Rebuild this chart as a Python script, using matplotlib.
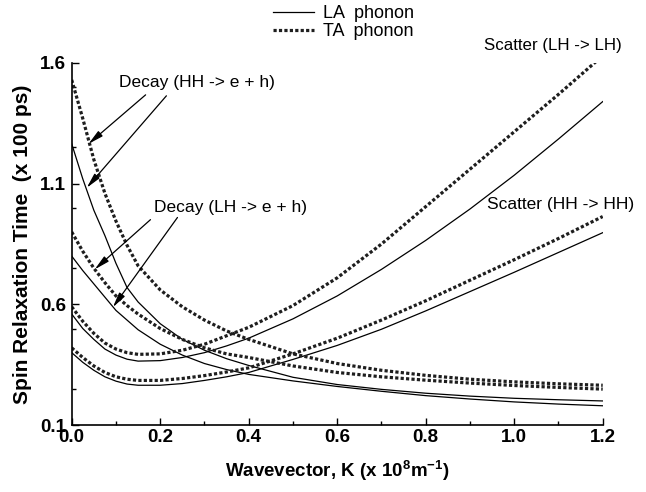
import matplotlib
matplotlib.use('Agg')
import matplotlib.pyplot as plt
from matplotlib.lines import Line2D
from matplotlib.ticker import MultipleLocator

plt.rcParams['font.family'] = ['Liberation Sans', 'DejaVu Sans']
plt.rcParams['mathtext.default'] = 'regular'

# wavevector grid (x 10^8 m^-1)
k = [0, 0.025, 0.05, 0.075, 0.1, 0.125, 0.15, 0.2, 0.25, 0.3, 0.35, 0.4,
     0.5, 0.6, 0.7, 0.8, 0.9, 1.0, 1.1, 1.2]

# spin relaxation time (x 100 ps)
decay_hh_ta = [1.53, 1.37, 1.20, 1.06, 0.945, 0.845, 0.76, 0.66, 0.59, 0.535,
               0.49, 0.455, 0.395, 0.355, 0.327, 0.306, 0.29, 0.279, 0.271, 0.265]
decay_hh_la = [1.265, 1.12, 0.99, 0.885, 0.77, 0.67, 0.61, 0.52, 0.455, 0.41,
               0.375, 0.347, 0.298, 0.268, 0.248, 0.232, 0.22, 0.211, 0.205, 0.20]
decay_lh_ta = [0.90, 0.82, 0.75, 0.69, 0.635, 0.595, 0.56, 0.50, 0.455, 0.42,
               0.395, 0.38, 0.345, 0.318, 0.30, 0.286, 0.274, 0.264, 0.256, 0.249]
decay_lh_la = [0.80, 0.74, 0.685, 0.63, 0.575, 0.535, 0.495, 0.435, 0.39, 0.355,
               0.33, 0.31, 0.283, 0.26, 0.24, 0.222, 0.208, 0.196, 0.187, 0.18]
scat_lh_ta = [0.59, 0.53, 0.48, 0.44, 0.415, 0.40, 0.393, 0.395, 0.41, 0.435,
              0.47, 0.505, 0.595, 0.71, 0.85, 1.005, 1.16, 1.315, 1.47, 1.63]
scat_lh_la = [0.56, 0.50, 0.455, 0.415, 0.39, 0.373, 0.365, 0.367, 0.38, 0.40,
              0.428, 0.46, 0.54, 0.635, 0.745, 0.865, 0.995, 1.135, 1.285, 1.44]
scat_hh_ta = [0.42, 0.38, 0.345, 0.318, 0.30, 0.29, 0.285, 0.285, 0.293, 0.305,
              0.32, 0.337, 0.395, 0.46, 0.535, 0.615, 0.70, 0.785, 0.873, 0.964]
scat_hh_la = [0.40, 0.36, 0.327, 0.30, 0.282, 0.27, 0.265, 0.265, 0.272, 0.285,
              0.30, 0.318, 0.372, 0.43, 0.497, 0.573, 0.653, 0.733, 0.815, 0.897]

fig = plt.figure(figsize=(6.46, 4.92), dpi=100)
ax = fig.add_axes([0.111, 0.136, 0.822, 0.736])

solid = dict(color='black', lw=0.9, ls='-')
dash = dict(color='#1e1e1e', lw=2.3, ls=(0, (1.0, 0.7)))

for ys in [decay_hh_la, decay_lh_la, scat_lh_la, scat_hh_la]:
    ax.plot(k, ys, **solid)
for ys in [decay_hh_ta, decay_lh_ta, scat_lh_ta, scat_hh_ta]:
    ax.plot(k, ys, **dash)

ax.set_xlim(0, 1.2)
ax.set_ylim(0.1, 1.6)
ax.xaxis.set_major_locator(MultipleLocator(0.2))
ax.xaxis.set_minor_locator(MultipleLocator(0.1))
ax.set_yticks([0.1, 0.6, 1.1, 1.6])
ax.yaxis.set_minor_locator(MultipleLocator(0.25))
ax.set_xticklabels(['%.1f' % v for v in ax.get_xticks()])
ax.tick_params(which='both', direction='in', width=1.0)
ax.tick_params(which='major', length=5, labelsize=13.5)
ax.tick_params(axis='x', pad=3)
ax.tick_params(axis='y', pad=4)
ax.tick_params(which='minor', length=3)
for lab in ax.get_xticklabels() + ax.get_yticklabels():
    lab.set_fontweight('bold')
for s in ['top', 'right']:
    ax.spines[s].set_visible(False)
for s in ['left', 'bottom']:
    ax.spines[s].set_linewidth(1.2)

ax.set_xlabel('Wavevector, K (x 10$^8$m$^{-1}$)', fontsize=13.5,
              fontweight='bold', labelpad=9)
ax.set_ylabel('Spin Relaxation Time  (x 100 ps)', fontsize=15,
              fontweight='bold', labelpad=6)

arrow = dict(arrowstyle='-|>,head_length=0.9,head_width=0.2', color='black',
             lw=0.9, shrinkA=0, shrinkB=0)
ax.text(0.108, 1.521, 'Decay (HH -> e + h)', fontsize=12.5, va='center')
ax.annotate('', xy=(0.038, 1.265), xytext=(0.167, 1.468), arrowprops=arrow)
ax.annotate('', xy=(0.034, 1.083), xytext=(0.214, 1.464), arrowprops=arrow)
ax.text(0.187, 1.0, 'Decay (LH -> e + h)', fontsize=12.5, va='center')
ax.annotate('', xy=(0.052, 0.745), xytext=(0.178, 0.951), arrowprops=arrow)
ax.annotate('', xy=(0.093, 0.588), xytext=(0.239, 0.96), arrowprops=arrow)
ax.text(0.932, 1.674, 'Scatter (LH -> LH)', fontsize=12.2, va='center',
        clip_on=False)
ax.text(0.939, 1.013, 'Scatter (HH -> HH)', fontsize=12.5, va='center')

handles = [Line2D([], [], **solid), Line2D([], [], **dash)]
fig.legend(handles, ['LA  phonon', 'TA  phonon'], loc='upper center',
           bbox_to_anchor=(0.532, 1.022), frameon=False, fontsize=13,
           handlelength=2.3, handletextpad=0.5, labelspacing=0.05)

fig.savefig('out.png', dpi=100)
